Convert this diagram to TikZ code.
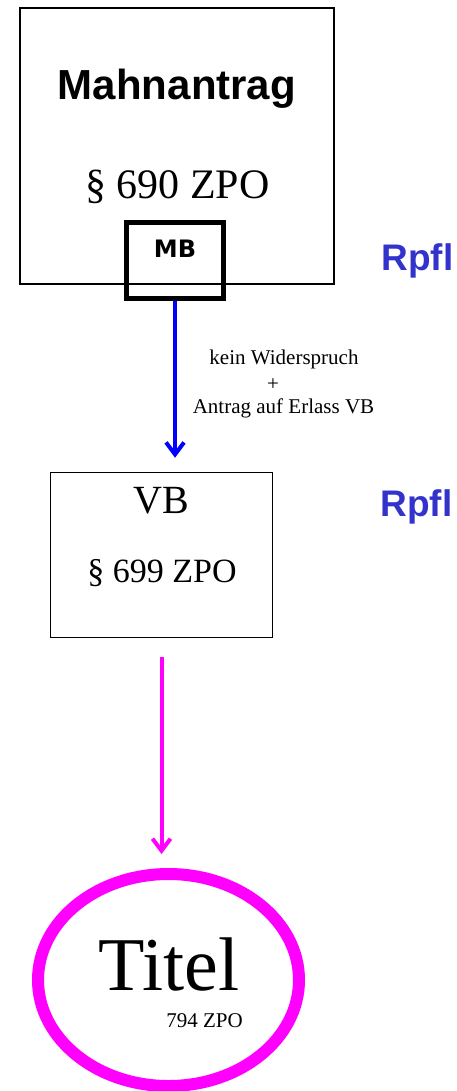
\documentclass[tikz,border=0pt]{standalone}
\usepackage{fontspec}
\setmainfont{Liberation Serif}
\newfontfamily\arialfont{Liberation Sans}
\newfontfamily\verdfont{DejaVu Sans}
\usetikzlibrary{arrows.meta,shapes.geometric}
\definecolor{rpflblue}{RGB}{51,51,204}
\definecolor{titelpink}{RGB}{255,0,255}
\begin{document}
\begin{tikzpicture}[x=1pt,y=-1pt,
  box/.style={draw,inner sep=0pt},
  rpfl/.style={font=\arialfont\bfseries\fontsize{37}{37}\selectfont,text=rpflblue,inner sep=0pt},
  small/.style={font=\fontsize{21}{21}\selectfont,inner sep=0pt}]

\useasboundingbox (0,0) rectangle (457,1091);

\node[box,line width=2pt,minimum width=314pt,minimum height=276pt] (mahn) at (177.3,146) {};
\node[font=\arialfont\bfseries\fontsize{42}{42}\selectfont,inner sep=0pt] (mahntext) at (177,88.5) {Mahnantrag};
\node[font=\fontsize{42}{42}\selectfont,inner sep=0pt] (para690) at (177.5,186.5) {§ 690 ZPO};
\node[box,line width=5pt,minimum width=97pt,minimum height=76pt] (mb) at (175,260.5) {};
\node[font=\verdfont\bfseries\fontsize{24}{24}\selectfont,inner sep=0pt] (mbtext) at (175,249) {MB};
\node[rpfl] (rpfla) at (417.5,261) {Rpfl};

\node[small] (kein) at (284,359) {kein Widerspruch};
\node[small] (plus) at (273,385) {+};
\node[small] (antrag) at (283.5,408) {Antrag auf Erlass VB};

\node[box,line width=1.5pt,minimum width=222pt,minimum height=165pt] (vb) at (161.5,555) {};
\node[font=\fontsize{40}{40}\selectfont,inner sep=0pt] (vbtext) at (161,501) {VB};
\node[font=\fontsize{34}{34}\selectfont,inner sep=0pt] (para699) at (162,573) {§ 699 ZPO};
\node[rpfl] (rpflb) at (416.5,507) {Rpfl};

\node[draw=titelpink,line width=12pt,ellipse,minimum width=261pt,minimum height=212pt] (titel) at (168.5,980) {};
\node[font=\fontsize{76}{76}\selectfont,inner sep=0pt] (titeltext) at (169,964) {Titel};
\node[small] (para794) at (204.5,1020.5) {794 ZPO};

\draw[blue,line width=4pt,-{Straight Barb[length=12pt,width=18pt]},shorten >=14pt] (mb.south) -- (mb.south |- vb.north);
\draw[titelpink,line width=4pt,-{Straight Barb[length=12pt,width=18pt]},shorten <=19pt,shorten >=14pt] (vb.south) -- (vb.south |- titel.north);

\end{tikzpicture}
\end{document}
